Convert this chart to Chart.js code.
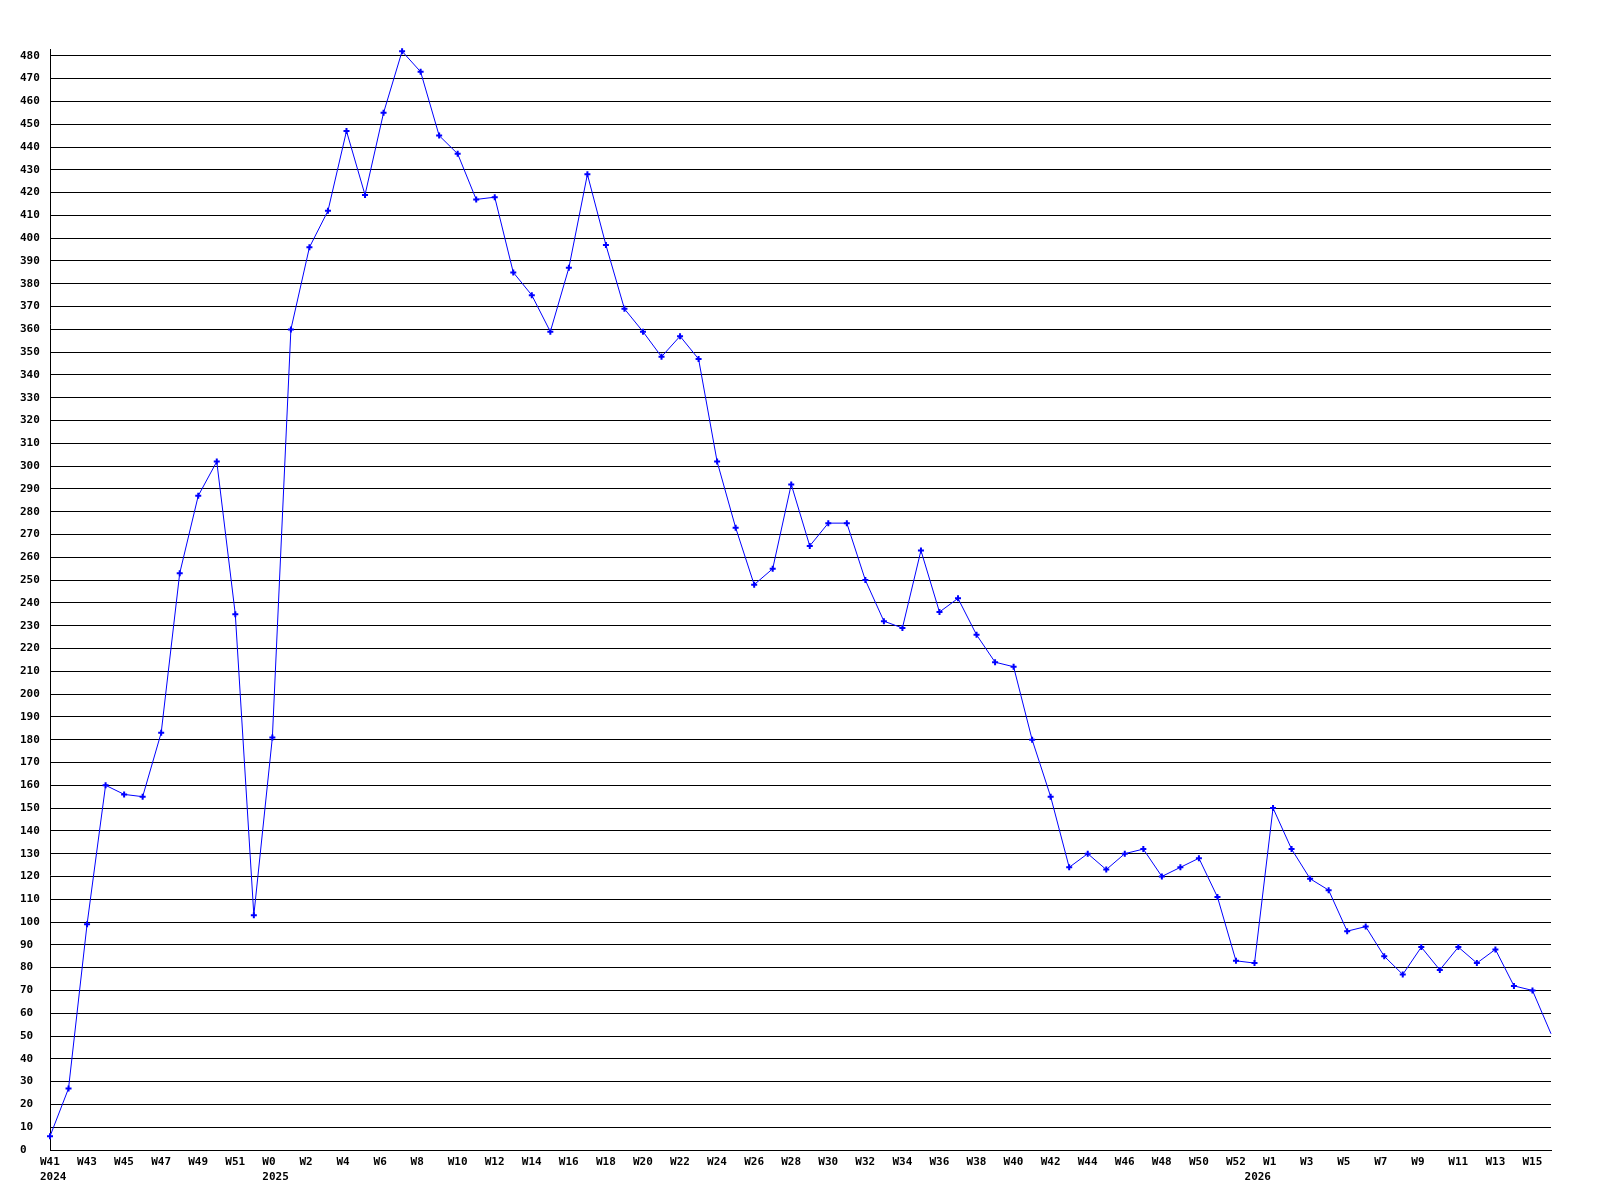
<!DOCTYPE html>
<html>
<head>
<meta charset="utf-8">
<script src="https://cdn.jsdelivr.net/npm/chart.js@4/dist/chart.umd.min.js"></script>
<style>
html,body{margin:0;padding:0;background:#ffffff;}
#wrap{width:1600px;height:1200px;}
</style>
</head>
<body>
<div id="wrap"><canvas id="c" width="1600" height="1200"></canvas></div>
<script>
// ---- categories (weeks) ----
const weeks2024 = ['W41','W42','W43','W44','W45','W46','W47','W48','W49','W50','W51','W52'];
const weeks2025 = ['W0','W1','W2','W3','W4','W5','W6','W7','W8','W9','W10','W11','W12','W13','W14','W15','W16','W17','W18','W19','W20','W21','W22','W23','W24','W25','W26','W27','W28','W29','W30','W31','W32','W33','W34','W35','W36','W37','W38','W39','W40','W41','W42','W43','W44','W45','W46','W47','W48','W49','W50','W51','W52'];
const weeks2026 = ['W0','W1','W2','W3','W4','W5','W6','W7','W8','W9','W10','W11','W12','W13','W14','W15','W16'];
const years = ['2024','2025','2026'];

// ---- series values ----
const values2024 = [6,27,99,160,156,155,183,253,287,302,235,103];
const values2025 = [181,360,396,412,447,419,455,482,473,445,437,417,418,385,375,359,387,428,397,369,359,348,357,347,302,273,248,255,292,265,275,275,250,232,229,263,236,242,226,214,212,180,155,124,130,123,130,132,120,124,128,111,83];
const values2026 = [82,150,132,119,114,96,98,85,77,89,79,89,82,88,72,70,51];

// ---- y axis ticks ----
const yMin = 0;
const yMax = 483;
const yTicks = [0,10,20,30,40,50,60,70,80,90,100,110,120,130,140,150,160,170,180,190,200,210,220,230,240,250,260,270,280,290,300,310,320,330,340,350,360,370,380,390,400,410,420,430,440,450,460,470,480];

const categories = [].concat(weeks2024, weeks2025, weeks2026);
const values = [].concat(values2024, values2025, values2026);
const yearStart = {};
yearStart[0] = years[0];
yearStart[weeks2024.length] = years[1];
yearStart[weeks2024.length + weeks2025.length] = years[2];
const lastIndex = values.length - 1;

const FONT = {family: '"DejaVu Sans Mono", monospace', size: 11, weight: 'bold', lineHeight: '14.5px'};

new Chart(document.getElementById('c').getContext('2d'), {
  type: 'line',
  data: {
    labels: categories,
    datasets: [{
      data: values,
      borderColor: '#0000ff',
      backgroundColor: '#0000ff',
      borderWidth: 1,
      tension: 0,
      fill: false,
      pointStyle: 'cross',
      pointRadius: ctx => ctx.dataIndex === lastIndex ? 0 : 3,
      pointBorderWidth: 2,
      pointBorderColor: '#0000ff',
      clip: false
    }]
  },
  options: {
    responsive: false,
    animation: false,
    devicePixelRatio: 1,
    layout: {padding: {top: 49, right: 49, bottom: 0, left: 20}},
    plugins: {legend: {display: false}, tooltip: {enabled: false}, title: {display: false}},
    scales: {
      x: {
        type: 'category',
        grid: {display: false, drawTicks: false},
        border: {display: true, color: '#000000', width: 1},
        ticks: {
          autoSkip: false,
          maxRotation: 0,
          minRotation: 0,
          align: 'start',
          labelOffset: -10,
          padding: 5,
          color: '#000000',
          font: FONT,
          callback: function(value, index) {
            const first = index % 2 === 0 ? categories[index] : '';
            if (yearStart[index]) return [first, yearStart[index]];
            return first;
          }
        },
        afterFit: s => { s.height = 50; }
      },
      y: {
        min: yMin,
        max: yMax,
        grid: {color: '#000000', lineWidth: 1, drawTicks: false},
        border: {display: true, color: '#000000', width: 1},
        ticks: {
          crossAlign: 'far',
          padding: 10,
          color: '#000000',
          font: FONT
        },
        afterBuildTicks: s => { s.ticks = yTicks.map(v => ({value: v})); },
        afterFit: s => { s.width = 30; }
      }
    }
  }
});
</script>
</body>
</html>
